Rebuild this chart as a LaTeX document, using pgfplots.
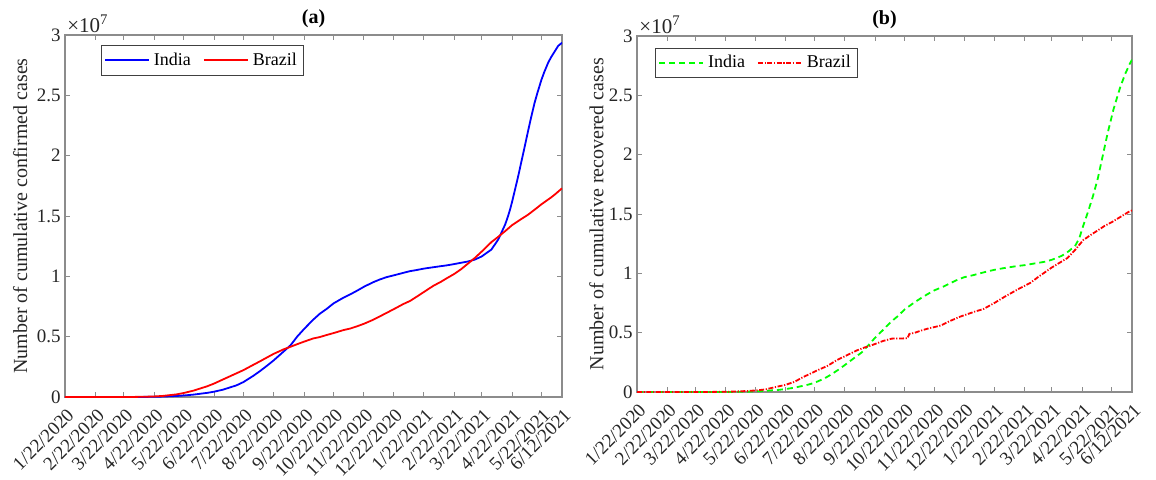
\documentclass[border=0pt]{standalone}
\usepackage{fontspec}
\setmainfont{Liberation Serif}
\usepackage{pgfplots}
\usepackage{pgfplotstable}
\pgfplotsset{compat=1.18}

\definecolor{axgray}{RGB}{140,140,140}
\definecolor{txtgray}{RGB}{38,38,38}

% days since 1/22/2020, values in units of 1e7
\pgfplotstableread{
day val
0 0
39 0.0000003
53 0.0000107
60 0.0000396
70 0.0001998
84 0.0012322
91 0.0021370
100 0.0037257
114 0.0085784
121 0.0124794
131 0.0198370
145 0.0343091
152 0.0440450
161 0.0604641
175 0.0968876
182 0.1238635
192 0.1750723
199 0.2153010
206 0.2589682
213 0.3044940
223 0.3769523
230 0.4280422
237 0.5020359
244 0.5646010
253 0.6394068
260 0.6906151
267 0.7307097
274 0.7761312
284 0.8229313
291 0.8507754
298 0.8814579
305 0.9139865
314 0.9499413
321 0.9735850
328 0.9932547
335 1.0075116
345 1.0286709
352 1.0432434
359 1.0527683
366 1.0639684
376 1.0757610
383 1.0838194
390 1.0916589
397 1.1016434
404 1.1124527
411 1.1229398
418 1.1385339
425 1.1646081
435 1.2221665
442 1.3060542
449 1.4291917
452 1.5000000
454 1.5540000
456 1.6150000
459 1.7170000
461 1.7850000
463 1.8550000
465 1.9300000
468 2.0400000
472 2.1900000
475 2.3000000
479 2.4372907
482 2.5228996
486 2.6289290
489 2.6948874
493 2.7729247
496 2.8175044
500 2.8694879
503 2.9089069
507 2.9358033
}\indconf

\pgfplotstableread{
day val
0 0
35 0.0000001
53 0.0000200
60 0.0001546
70 0.0006836
84 0.0028320
91 0.0045757
100 0.0092202
114 0.0220291
121 0.0330890
131 0.0526447
145 0.0888271
152 0.1111348
161 0.1448753
175 0.1966748
182 0.2227514
192 0.2662485
199 0.2962442
206 0.3275520
213 0.3582362
223 0.3950931
230 0.4162073
237 0.4382263
244 0.4591364
253 0.4847092
260 0.4969141
267 0.5140863
274 0.5298772
284 0.5545705
291 0.5675032
298 0.5863093
305 0.6071401
314 0.6386787
321 0.6674999
328 0.6970034
335 0.7263619
345 0.7700578
352 0.7961673
359 0.8324294
366 0.8697368
376 0.9229322
383 0.9524640
390 0.9866710
397 1.0195160
404 1.0587001
411 1.1051665
418 1.1519609
425 1.2047526
435 1.2839844
442 1.3279857
449 1.3746681
456 1.4237078
465 1.4725975
472 1.5087415
479 1.5520047
486 1.5970949
496 1.6545554
500 1.6803472
507 1.7296118
}\braconf

\pgfplotstableread{
day val
0 0
70 0.0000148
84 0.0001489
100 0.0010018
114 0.0030258
121 0.0051784
131 0.0095754
145 0.0180013
152 0.0248190
161 0.0359860
175 0.0612768
182 0.0782606
192 0.1145629
199 0.1480884
206 0.1862258
213 0.2280566
223 0.2901908
230 0.3323950
237 0.3942360
244 0.4587613
253 0.5308014
260 0.5906069
267 0.6383441
274 0.6948497
284 0.7544798
291 0.7917373
298 0.8266466
305 0.8583341
314 0.8889585
321 0.9177710
328 0.9447323
335 0.9672063
345 0.9860280
352 1.0016755
359 1.0162738
366 1.0296212
376 1.0445608
383 1.0534091
390 1.0621220
397 1.0689715
404 1.0789823
411 1.0881600
418 1.0983066
425 1.1146390
435 1.1474683
442 1.1850000
449 1.2350000
453 1.2950000
457 1.4000000
462 1.5200000
467 1.6500000
472 1.8000000
477 1.9900000
482 2.1800000
488 2.3800000
492 2.4900000
495 2.5700000
500 2.6800000
505 2.7700000
507 2.8000000
}\indrec

\pgfplotstableread{
day val
0 0
70 0.0000127
91 0.0025000
100 0.0038000
114 0.0090000
121 0.0130000
131 0.0211000
145 0.0477000
152 0.0600000
161 0.0850000
170 0.1250000
184 0.1800000
195 0.2200000
205 0.2700000
215 0.3100000
225 0.3500000
233 0.3750000
239 0.3900000
252 0.4300000
261 0.4500000
270 0.4510000
277 0.4530000
279 0.4900000
284 0.4980000
290 0.5150000
298 0.5350000
305 0.5480000
311 0.5600000
321 0.6000000
331 0.6350000
345 0.6750000
355 0.7000000
366 0.7500000
376 0.8000000
390 0.8650000
403 0.9200000
411 0.9700000
418 1.0100000
425 1.0500000
435 1.1000000
441 1.1300000
449 1.2000000
457 1.2800000
465 1.3250000
479 1.4000000
486 1.4300000
496 1.4800000
505 1.5250000
507 1.5300000
}\brarec

\pgfplotsset{
  panel/.style={
    scale only axis,
    clip mode=individual,
    xmin=0, xmax=507, ymin=0, ymax=3,
    xtick={0,31,60,91,121,152,182,213,244,274,305,335,366,397,425,456,486,507},
    xticklabels={1/22/2020,2/22/2020,3/22/2020,4/22/2020,5/22/2020,6/22/2020,7/22/2020,8/22/2020,9/22/2020,10/22/2020,11/22/2020,12/22/2020,1/22/2021,2/22/2021,3/22/2021,4/22/2021,5/22/2021,6/12/2021},
    ytick={0,0.5,1,1.5,2,2.5,3},
    yticklabels={0,0.5,1,1.5,2,2.5,3},
    tick pos=both, tick align=inside,
    major tick length=2.5pt,
    axis line style={axgray, line width=0.6pt},
    tick style={axgray, line width=0.5pt},
    ticklabel style={font=\fontsize{9.5}{10}\selectfont, text=txtgray},
    xticklabel style={xshift=0.5pt, yshift=-5pt, rotate=45, anchor=north east, inner sep=0pt},
    yticklabel style={inner sep=2pt},
    label style={font=\fontsize{10}{11}\selectfont, text=txtgray},
    title style={font=\fontsize{10}{11}\selectfont\bfseries, yshift=-6pt},
    legend columns=2,
    legend cell align=left,
    legend style={draw=black!75, line width=0.4pt, fill=white,
      font=\fontsize{9}{10}\selectfont, anchor=north west,
      inner sep=1.5pt,
      /tikz/every even column/.append style={column sep=4pt}},
    legend image code/.code={\draw[#1] plot coordinates {(0pt,0pt) (11pt,0pt) (22pt,0pt)};},
  },
}

\begin{document}
\begin{tikzpicture}
\useasboundingbox (-32.5pt,-41pt) rectangle (545.5pt,198.5pt);
\begin{axis}[panel,
  at={(0pt,0pt)}, anchor=south west,
  width=248.5pt, height=181pt,
  title={(a)},
  ylabel={Number of cumulative confirmed cases},
  ylabel style={at={(axis description cs:-0.09,0.5)}, anchor=center},
  legend style={at={(0.072,0.972)}},
]
\addplot[blue, line width=0.9pt] table[x=day,y=val] {\indconf};
\addlegendentry{India}
\addplot[red, line width=0.9pt] table[x=day,y=val] {\braconf};
\addlegendentry{Brazil}
\node[anchor=south west, inner sep=1pt, text=txtgray, font=\fontsize{10.5}{11}\selectfont] at (rel axis cs:0,1) {×10\textsuperscript{7}};
\end{axis}

\begin{axis}[panel,
  at={(286pt,2.5pt)}, anchor=south west,
  width=247.5pt, height=178pt,
  title={(b)},
  ylabel={Number of cumulative recovered cases},
  ylabel style={at={(axis description cs:-0.082,0.5)}, anchor=center},
  legend style={at={(0.036,0.967)}},
]
\addplot[green, line width=0.9pt, dash pattern=on 3pt off 2pt] table[x=day,y=val] {\indrec};
\addlegendentry{India}
\addplot[red, line width=0.9pt, dash pattern=on 2.5pt off 0.8pt on 0.6pt off 0.8pt] table[x=day,y=val] {\brarec};
\addlegendentry{Brazil}
\node[anchor=south west, inner sep=1pt, text=txtgray, font=\fontsize{10.5}{11}\selectfont] at (rel axis cs:0,1) {×10\textsuperscript{7}};
\end{axis}
\end{tikzpicture}
\end{document}
